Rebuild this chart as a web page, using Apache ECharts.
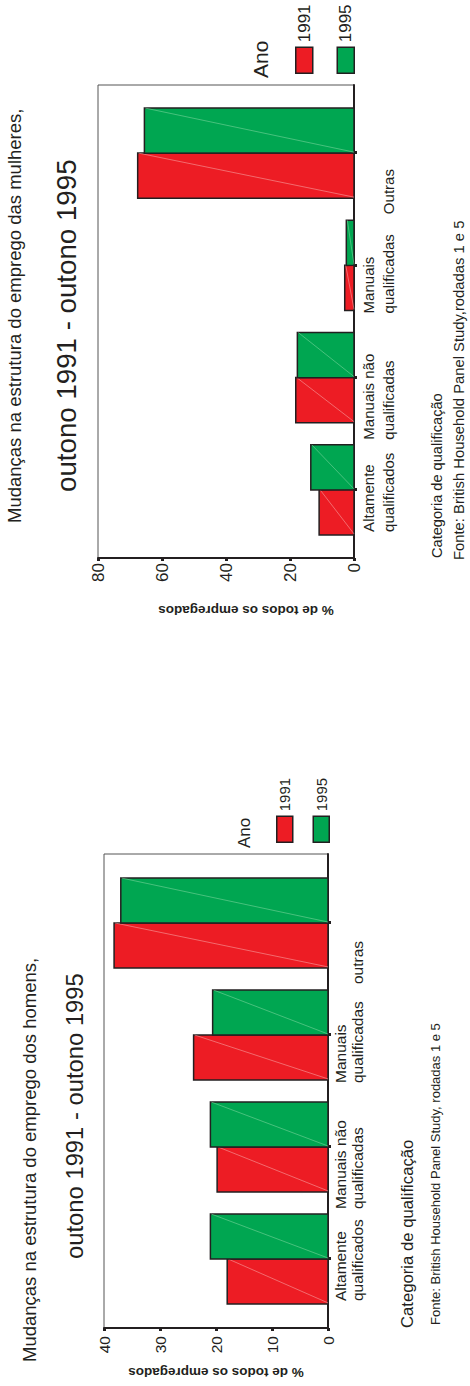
<!DOCTYPE html>
<html>
<head>
<meta charset="utf-8">
<script src="https://cdn.jsdelivr.net/npm/echarts@6/dist/echarts.min.js"></script>
<style>
html,body{margin:0;padding:0;background:#fff;overflow:hidden;width:470px;height:1386px;}
#wrap{position:absolute;left:0;top:0;width:1386px;height:470px;transform-origin:0 0;transform:translate(0,1386px) rotate(-90deg);}
#chart{width:1386px;height:470px;}
</style>
</head>
<body>
<div id="wrap"><div id="chart"></div></div>
<script>
// ---- data ----
const years = ['1991', '1995'];
const categoriesMen = ['Altamente\nqualificados', 'Manuais não\nqualificadas', 'Manuais\nqualificadas', 'outras'];
const categoriesWomen = ['Altamente\nqualificados', 'Manuais não\nqualificadas', 'Manuais\nqualificadas', 'Outras'];
const men1991 = [18.0, 19.8, 24.0, 38.2];
const men1995 = [21.0, 21.0, 20.6, 37.0];
const women1991 = [10.9, 18.2, 2.9, 67.6];
const women1995 = [13.5, 17.7, 2.4, 65.5];
const menValueTicks = [0, 10, 20, 30, 40];
const womenValueTicks = [0, 20, 40, 60, 80];
const titleMen = 'Mudanças na estrutura do emprego dos homens,';
const titleWomen = 'Mudanças na estrutura do emprego das mulheres,';
const subtitle = 'outono 1991 - outono 1995';
const axisTitle = '% de todos os empregados';
const categoryTitle = 'Categoria de qualificação';
const sourceMen = 'Fonte: British Household Panel Study, rodadas 1 e 5';
const sourceWomen = 'Fonte: British Household Panel Study,rodadas 1 e 5';
const legendTitle = 'Ano';

// ---- styles ----
const RED = '#ED1C24', GREEN = '#00A651', EDGE = '#231F20', INK = '#231F20';
const REG = "'Liberation Sans', Arial, sans-serif";
const NARROW = "'Liberation Sans Narrow', 'Arial Narrow', 'Liberation Sans', sans-serif";
const BAR_FRAC = 0.401;
const LABEL_LEAD = [42, 62, 48, 61]; // how far each wrapped label starts before its tick

function renderBar(side, lineColor) {
  return function (params, api) {
    const cat = api.value(0), val = api.value(1);
    const base = api.coord([cat, 0]);
    const top = api.coord([cat, val]);
    const bw = api.size([1, 0])[0] * BAR_FRAC;
    const x0 = side === 0 ? base[0] - bw : base[0];
    return {
      type: 'group',
      children: [
        { type: 'rect', shape: { x: x0, y: top[1], width: bw, height: base[1] - top[1] },
          style: { fill: api.visual('color'), stroke: EDGE, lineWidth: 1.5 } },
        { type: 'line', shape: { x1: x0 + bw, y1: top[1] + 1, x2: x0 + 1, y2: base[1] },
          style: { stroke: lineColor, lineWidth: 0.7, opacity: 0.8 } }
      ]
    };
  };
}
function seriesFor(name, values, side, color, lineColor, axisIdx) {
  return {
    type: 'custom', name: name,
    xAxisIndex: axisIdx, yAxisIndex: axisIdx,
    itemStyle: { color: color },
    renderItem: renderBar(side, lineColor),
    encode: { x: 0, y: 1 },
    data: values.map((v, i) => [i, v]),
    silent: true
  };
}
function catFormatter(value, index) {
  let lines = value.split('\n');
  if (lines.length === 1) lines = [' ', lines[0]];
  return lines.map(l => '{a' + index + '|' + l + '}').join('\n');
}
function frameCatAxis(grid, cats) {
  return { type: 'category', gridIndex: grid, data: cats,
    axisLine: { show: true, lineStyle: { color: INK, width: 2 } },
    axisTick: { show: false }, axisLabel: { show: false }, splitLine: { show: false } };
}
function dataCatAxis(grid, cats, font, size, lh, margin) {
  const rich = {};
  LABEL_LEAD.forEach((d, i) => {
    rich['a' + i] = { fontFamily: font, fontSize: size, lineHeight: lh, color: INK, align: 'left', width: 2 * d };
  });
  return { type: 'category', gridIndex: grid, data: cats,
    axisLine: { show: false },
    axisTick: { show: true, alignWithLabel: true, length: 3, lineStyle: { color: INK, width: 3 } },
    axisLabel: { interval: 0, margin: margin, formatter: catFormatter, align: 'center', rich: rich },
    splitLine: { show: false } };
}
function frameValAxis(grid, ticks, font, size, margin, nameGap, namePad) {
  return { type: 'value', gridIndex: grid, min: ticks[0], max: ticks[ticks.length - 1], interval: ticks[1] - ticks[0],
    axisLine: { show: true, lineStyle: { color: INK, width: 2 } },
    axisTick: { show: true, length: 3, lineStyle: { color: INK, width: 3 } },
    axisLabel: { fontFamily: font, fontSize: size, color: INK, margin: margin },
    splitLine: { show: false },
    name: axisTitle, nameLocation: 'middle', nameGap: nameGap, nameRotate: 90,
    nameTextStyle: { fontFamily: REG, fontSize: 13.5, fontWeight: 'bold', color: INK, padding: namePad } };
}
function hiddenValAxis(grid, ticks) {
  return { type: 'value', gridIndex: grid, min: ticks[0], max: ticks[ticks.length - 1], interval: ticks[1] - ticks[0], show: false };
}
function txt(text, left, top, size) {
  return { text: text, left: left, top: top, padding: 0,
    textStyle: { fontFamily: REG, fontSize: size, fontWeight: 'normal', color: INK } };
}
function legendFor(left, top, h, gap, size) {
  return { data: years.map((y, i) => ({ name: y, icon: 'rect', itemStyle: { color: i ? GREEN : RED, borderColor: EDGE, borderWidth: 1.5 } })),
    orient: 'vertical', left: left, top: top, itemWidth: 26, itemHeight: h, itemGap: gap, padding: 0, selectedMode: false,
    textStyle: { fontFamily: NARROW, fontSize: size, color: INK } };
}

const chart = echarts.init(document.getElementById('chart'), null, { renderer: 'svg', width: 1386, height: 470 });
chart.setOption({
  backgroundColor: '#fff',
  animation: false,
  title: [
    txt(titleMen, 24, 20, 18.5),
    txt(subtitle, 127, 62, 23.8),
    txt(categoryTitle, 58, 399, 16.7),
    txt(sourceMen, 61, 429, 13),
    txt(legendTitle, 538, 236, 17),
    txt(titleWomen, 863, 5, 18.5),
    txt(subtitle, 894, 52, 27.7),
    txt(categoryTitle, 828, 429, 14.6),
    txt(sourceWomen, 826, 451, 14.8),
    txt(legendTitle, 1308, 250, 21)
  ],
  legend: [
    legendFor(543, 276, 16, 19, 15),
    legendFor(1312, 295, 17, 23, 17)
  ],
  grid: [
    { left: 58, top: 104, width: 474, height: 224, show: true, borderColor: '#555', borderWidth: 1 },
    { left: 71, top: 104, width: 448, height: 224 },
    { left: 828, top: 98, width: 473, height: 256, show: true, borderColor: '#555', borderWidth: 1 },
    { left: 840, top: 98, width: 449, height: 256 }
  ],
  xAxis: [
    frameCatAxis(0, categoriesMen),
    dataCatAxis(1, categoriesMen, NARROW, 15.5, 17, 4),
    frameCatAxis(2, categoriesWomen),
    dataCatAxis(3, categoriesWomen, REG, 15, 20, 4)
  ],
  yAxis: [
    frameValAxis(0, menValueTicks, NARROW, 15.5, 8, 37, [0, 0, 0, 0]),
    hiddenValAxis(1, menValueTicks),
    frameValAxis(2, womenValueTicks, REG, 17, 5, 45, [0, 40, 0, 0]),
    hiddenValAxis(3, womenValueTicks)
  ],
  series: [
    seriesFor(years[0], men1991, 0, RED, '#F7A8A8', 1),
    seriesFor(years[1], men1995, 1, GREEN, '#7FD8A0', 1),
    seriesFor(years[0], women1991, 0, RED, '#F7A8A8', 3),
    seriesFor(years[1], women1995, 1, GREEN, '#7FD8A0', 3)
  ]
});
</script>
</body>
</html>
